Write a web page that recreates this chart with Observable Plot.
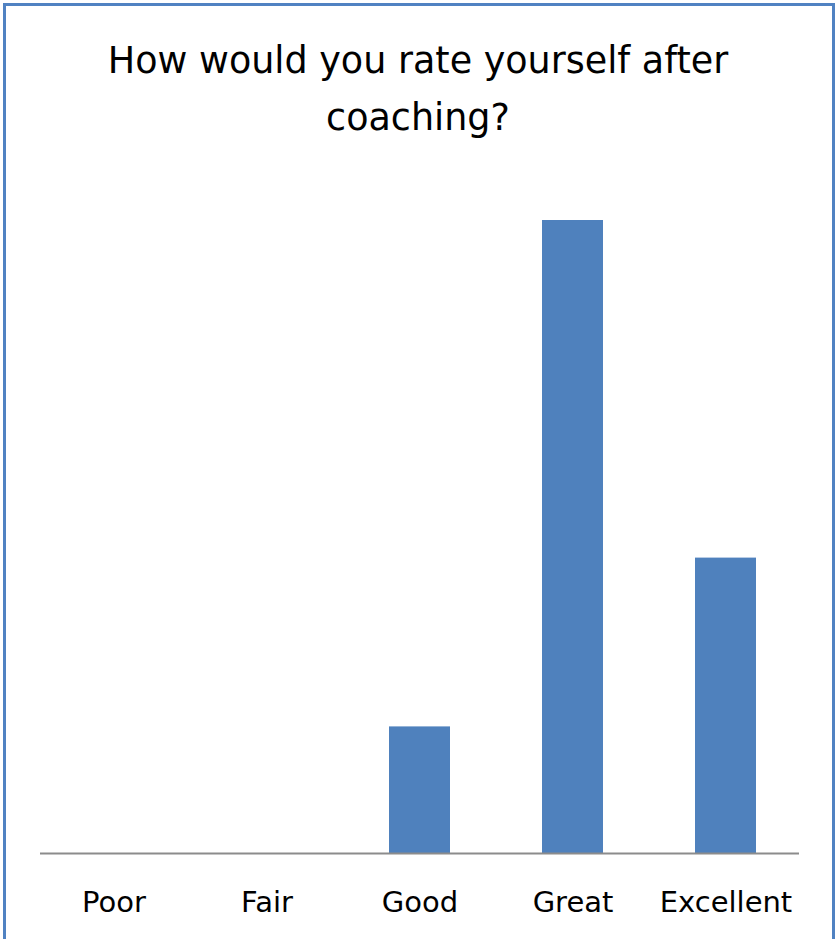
<!DOCTYPE html>
<html>
<head>
<meta charset="utf-8">
<script src="https://cdn.jsdelivr.net/npm/d3@7"></script>
<script src="https://cdn.jsdelivr.net/npm/@observablehq/plot@0.6"></script>
<style>
  html, body { margin: 0; padding: 0; background: #fff; }
  body { position: relative; width: 836px; height: 939px; overflow: hidden; font-family: "DejaVu Sans", sans-serif; }
  #frame {
    position: absolute; left: 3px; top: 3px;
    width: 826px; height: 960px;
    border: 3px solid #5082c2;
    box-sizing: content-box;
  }
  #title {
    position: absolute; left: 58px; top: 32px; width: 720px;
    text-align: center; font-size: 36.5px; line-height: 57px; color: #000;
  }
  #chart { position: absolute; left: 0; top: 0; }
</style>
</head>
<body>
<div id="frame"></div>
<div id="title"></div>
<div id="chart"></div>
<script>
// Survey answers: how respondents rated themselves after coaching
const title = "How would you rate yourself after coaching?";
const ratings = ["Poor", "Fair", "Good", "Great", "Excellent"];
const counts = [0, 0, 3, 15, 7];

const data = ratings.map((rating, i) => ({rating, count: counts[i]}));

document.getElementById("title").textContent = title;

const chart = Plot.plot({
  width: 836,
  height: 939,
  marginLeft: 40,
  marginRight: 37,
  marginTop: 220,
  marginBottom: 86,
  style: {fontFamily: "DejaVu Sans, sans-serif", fontSize: "29px", color: "#000", background: "transparent"},
  x: {domain: ratings, paddingInner: 0.6, paddingOuter: 0.28, tickSize: 0, tickPadding: 38, label: null},
  y: {domain: [0, 15], axis: null},
  marks: [
    Plot.barY(data, {x: "rating", y: "count", fill: "#4f81bd"}),
    Plot.ruleY([0], {stroke: "#8c8c8c", strokeWidth: 2})
  ]
});
document.getElementById("chart").appendChild(chart);
</script>
</body>
</html>
